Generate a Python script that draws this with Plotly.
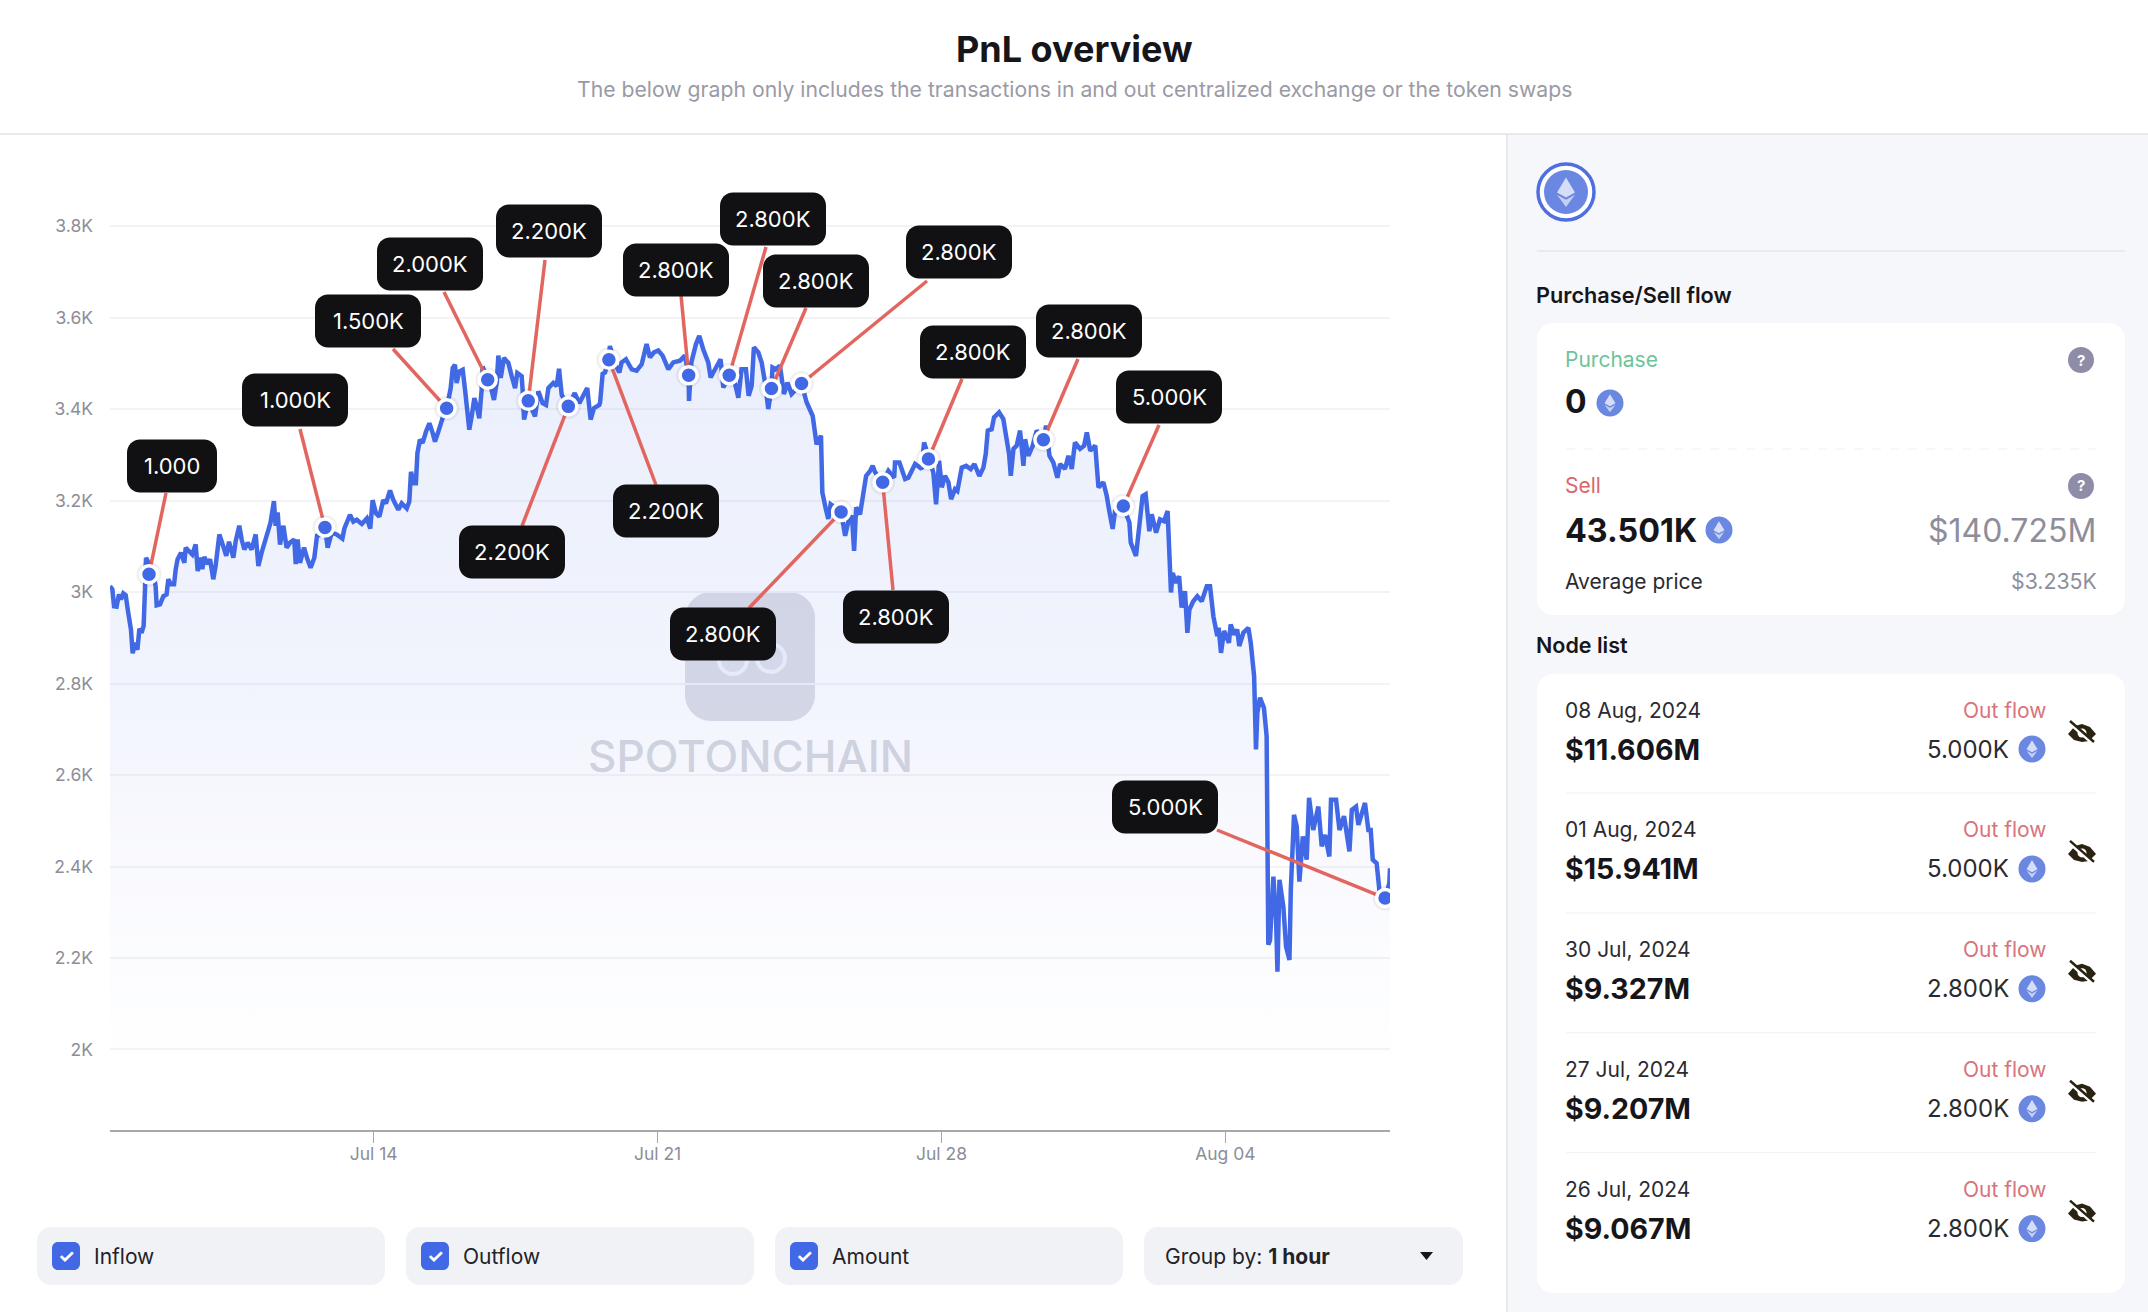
import pandas as pd
import plotly.graph_objects as go

W, H = 2148, 1312
START = pd.Timestamp("2024-07-07 12:00")

price_hours = [
0,1.4,2.4,3.9,5.3,6.5,7.9,9.3,10.5,11.6,12.4,13.4,14.8,16.2,17.4,18.7,19.9,20.7,21.3,22.3,23.1,23.7,26.2,27,27.6,29.6,31.6,33.5,34.5,35.9,37.9,38.9,40,42,44,44.8,46.4,48.7,50.7,51.9,53.3,54.6,55.8,57.8,59.2,61.1,62.5,64.7,66,67.7,68.8,70.4,73,74.4,76.5,77.9,79.5,81.5,83.8,86.2,87.8,89.7,91.7,93.7,95,97,98,99.2,100.6,102.6,104.5,106.5,109,109.9,111,112.4,114.8,116.8,118.7,120.9,122.5,125.2,127.2,128.8,131.2,134.1,137.5,138.7,
142,144,146,149,152,154,155.4,157.4,159.4,161.7,163.3,165.7,167.7,170.6,172.6,175.6,177.1,178.1,179.9,181,181.9,183.4,185,187,189,191,192.3,194.3,196.3,199.2,200.2,201.6,202.8,204.1,205.1,206.7,208.7,210.1,211.1,212.6,214,215.6,217,218.5,219.9,220.5,223.5,225.8,227.2,228.8,229.8,231.2,233.1,235.7,237.7,239.7,241,243.6,244.2,245,247.5,251.5,253.5,256,258,259.4,262.3,264.3,265.7,267.3,271.2,275,277.7,280,282.4,284.4,286.4,289.5,
290,291.5,292.9,295.2,295.8,298.8,301.4,302.7,305.3,308.7,311.6,314.6,317.5,319.5,321.9,324.4,327,330.4,333.3,337.3,340.2,342.4,342.6,344,346.7,348.7,351,354,355.4,358.6,361.3,362.9,366.4,369.2,371.8,373.7,376.3,377.9,379.7,381,383.6,385.6,387.6,389.5,391.4,392,394,396.4,398.8,400.8,403.3,409.2,412.2,415.8,418.1,420.7,421.5,423.6,425,426.4,432.6,
435,437,439,440.3,441.5,443.8,445.4,447.4,449.8,451.3,452.7,457.2,460.6,464,464.5,467.1,470.5,472.4,476.4,480.3,481.7,482.9,484.3,487.2,488.8,490.6,492.2,494.1,496.1,497.7,500,501.4,504,506.6,509.3,511.5,514.4,516.8,518.2,519.4,521.7,523.1,526.1,528.6,530.2,532,533,534.6,536.5,538.5,540.5,541.5,543.4,546,548.4,552.3,553.9,555.9,558.2,560.6,562.2,565.1,567.1,569.1,571,574,576.4,578,580,583,583.9,584.9,587.8,589.8,
591.3,593.3,594.7,599.6,603.2,604,607.1,609.1,611,612.8,615,616.4,619,621.3,623.7,625.8,626.2,627.2,627.8,628.8,630.8,632.6,634.1,636.1,637.5,638.7,641,643.4,646,649,650.9,652.9,655.2,656,657.4,659.2,662.1,663.1,665.3,667,668.2,670.6,673.6,675,677,678.1,678.9,680.5,682.8,684.4,
685.4,686.4,688.4,690,690.8,692,694.3,695.9,697.9,698.7,699.8,700.6,702.2,703.8,705.8,708.1,709.5,712,715,717,719,721.5,722.5,725.5,727.5,730.2,733.4,734.8,737.3,738.7,742.6,744.6,746,747.2,749.5,751.1,754.5,757,757.4,
]
price_values = [
3013,3006,2969,2968,2995,2984,2997,2993,2962,2933,2918,2866,2889,2874,2920,2911,2926,3006,3075,3068,3039,3050,3028,3013,2971,2973,2991,2995,3028,3017,3017,3050,3072,3086,3064,3097,3090,3082,3104,3046,3075,3050,3077,3061,3072,3028,3057,3126,3112,3093,3079,3110,3075,3112,3145,3115,3093,3108,3093,3126,3057,3086,3112,3134,3152,3199,3145,3174,3104,3145,3097,3108,3115,3061,3115,3064,3097,3072,3053,3075,3123,3126,3141,3097,3130,3126,3117,3139,
3169,3154,3158,3149,3161,3139,3201,3172,3165,3201,3194,3222,3201,3180,3194,3183,3198,3263,3238,3238,3304,3333,3326,3351,3369,3347,3329,3351,3373,3402,3420,3446,3490,3497,3457,3482,3486,3442,3399,3355,3384,3424,3406,3380,3442,3493,3464,3442,3420,3457,3517,3468,3512,3501,3472,3446,3479,3472,3439,3377,3418,3384,3439,3413,3409,3446,3457,3450,3488,3431,3406,3435,3413,3428,3446,3377,3402,3409,
3415,3477,3480,3508,3538,3498,3480,3502,3509,3487,3484,3498,3542,3513,3524,3528,3517,3487,3502,3506,3517,3474,3418,3502,3542,3560,3531,3502,3469,3491,3509,3447,3474,3466,3425,3487,3487,3429,3451,3535,3524,3502,3458,3400,3445,3491,3487,3495,3433,3458,3433,3456,3415,3385,3323,3342,3218,3181,3160,3192,3175,
3123,3156,3167,3090,3185,3170,3207,3254,3265,3276,3262,3240,3265,3250,3283,3283,3247,3250,3280,3269,3327,3313,3291,3261,3192,3287,3229,3254,3240,3203,3225,3221,3272,3276,3269,3280,3254,3272,3302,3353,3356,3382,3393,3378,3342,3302,3254,3313,3320,3353,3276,3334,3298,3320,3353,3333,3364,3298,3283,3250,3280,3269,3298,3269,3327,3313,3320,3349,3309,3320,3276,3229,3240,3210,
3177,3138,3177,3188,3152,3108,3079,3159,3210,3214,3133,3170,3130,3159,3155,3177,3130,3042,2999,3042,3020,3035,2966,3002,2911,2962,2980,2991,2980,3013,3013,2947,2904,2922,2867,2915,2889,2929,2907,2918,2882,2911,2922,2889,2816,2656,2736,2769,2747,2685,
2229,2239,2378,2283,2170,2371,2312,2225,2196,2349,2429,2513,2488,2367,2466,2415,2550,2480,2531,2444,2469,2422,2546,2546,2480,2510,2433,2524,2531,2491,2539,2480,2480,2415,2407,2349,2331,2364,2396,
]

swap_hours = [23.1,127.2,199.2,223.5,247.5,271.2,295.2,342.4,366.4,391.4,409.2,432.6,457.2,484.3,552.3,599.6,754.5]
swap_values = [3039,3141,3402,3464,3418,3406,3508,3474,3474,3445,3456,3175,3240,3291,3333,3188,2331]
swap_labels = ["1.000","1.000K","1.500K","2.000K","2.200K","2.200K","2.200K","2.800K","2.800K",
               "2.800K","2.800K","2.800K","2.800K","2.800K","2.800K","5.000K","5.000K"]

y_ticks = [2000,2200,2400,2600,2800,3000,3200,3400,3600,3800]
y_labels = ["2K","2.2K","2.4K","2.6K","2.8K","3K","3.2K","3.4K","3.6K","3.8K"]
x_ticks = ["2024-07-14","2024-07-21","2024-07-28","2024-08-04"]
x_labels = ["Jul 14","Jul 21","Jul 28","Aug 04"]

node_dates = ["08 Aug, 2024","01 Aug, 2024","30 Jul, 2024","27 Jul, 2024","26 Jul, 2024"]
node_usd = ["$11.606M","$15.941M","$9.327M","$9.207M","$9.067M"]
node_eth = ["5.000K","5.000K","2.800K","2.800K","2.800K"]

# --- layout constants (pixels of the page) ---
PL, PR, PT, PB = 110, 1390, 190, 1130
Y_RANGE = [1824, 3879]
X_END_H = 757.4
BOX_CENTERS = [(172,466),(295,400),(368,321),(430,264),(549,231),(512,552),(666,511),(676,270),
               (773,219),(816,281),(959,252),(723,634),(896,617),(973,352),(1089,331),(1169,397),(1165,807)]
LEADER_ENDS = [(166,493),(300,429),(393,349),(444,292),(545,260),(522,526),(656,485),(681,295),
               (766,247),(806,308),(927,281),(749,608),(893,590),(962,379),(1078,359),(1159,425),(1217,830)]
BOX_H = 53
RED = "#e2655f"
BLUE = "#4169e6"
DARK = "#111113"
FONT = "Inter"


def ts(hours):
    return [START + pd.Timedelta(hours=float(h)) for h in hours]


def fx(px):
    return px / W


def fy(py):
    return 1 - py / H


def data_x(px):
    return (px - PL) / (PR - PL) * X_END_H


def data_y(py):
    return Y_RANGE[0] + (PB - py) / (PB - PT) * (Y_RANGE[1] - Y_RANGE[0])


shapes, annos = [], []


def rrect(x0, y0, x1, y1, r, fill, layer="below", line=None):
    k = r * 0.45
    p = (f"M{fx(x0+r)},{fy(y0)} L{fx(x1-r)},{fy(y0)} C{fx(x1-k)},{fy(y0)} {fx(x1)},{fy(y0+k)} {fx(x1)},{fy(y0+r)} "
         f"L{fx(x1)},{fy(y1-r)} C{fx(x1)},{fy(y1-k)} {fx(x1-k)},{fy(y1)} {fx(x1-r)},{fy(y1)} "
         f"L{fx(x0+r)},{fy(y1)} C{fx(x0+k)},{fy(y1)} {fx(x0)},{fy(y1-k)} {fx(x0)},{fy(y1-r)} "
         f"L{fx(x0)},{fy(y0+r)} C{fx(x0)},{fy(y0+k)} {fx(x0+k)},{fy(y0)} {fx(x0+r)},{fy(y0)} Z")
    shapes.append(dict(type="path", xref="paper", yref="paper", path=p, fillcolor=fill,
                       line=line or dict(width=0), layer=layer))


def rect(x0, y0, x1, y1, fill, layer="below"):
    shapes.append(dict(type="rect", xref="paper", yref="paper", x0=fx(x0), x1=fx(x1), y0=fy(y0), y1=fy(y1),
                       fillcolor=fill, line=dict(width=0), layer=layer))


def hline(x0, x1, y, color, width=1, dash="solid", layer="above"):
    shapes.append(dict(type="line", xref="paper", yref="paper", x0=fx(x0), x1=fx(x1), y0=fy(y), y1=fy(y),
                       line=dict(color=color, width=width, dash=dash), layer=layer))


def circle(cx, cy, r, fill, line=None, layer="above"):
    shapes.append(dict(type="circle", xref="paper", yref="paper", x0=fx(cx-r), x1=fx(cx+r), y0=fy(cy-r), y1=fy(cy+r),
                       fillcolor=fill, line=line or dict(width=0), layer=layer))


def poly(points, fill, layer="above", line=None):
    p = "M" + " L".join(f"{fx(a)},{fy(b)}" for a, b in points) + " Z"
    shapes.append(dict(type="path", xref="paper", yref="paper", path=p, fillcolor=fill,
                       line=line or dict(width=0), layer=layer))


def text(px, py, s, size, color="#1a1a1f", anchor="left", weight=400):
    if anchor == "left":
        px -= 3  # annotation box padding
    annos.append(dict(xref="paper", yref="paper", x=fx(px), y=fy(py), text=s, showarrow=False,
                      xanchor=anchor, yanchor="middle", align=anchor,
                      font=dict(family=FONT, size=size, color=color, weight=weight)))


def eth(cx, cy, r):
    circle(cx, cy, r, "#6a87e2")
    s = r / 13
    poly([(cx, cy-8.5*s), (cx+5.3*s, cy+0.3*s), (cx, cy+3.2*s), (cx-5.3*s, cy+0.3*s)], "rgba(255,255,255,0.72)")
    poly([(cx, cy+4.6*s), (cx+5.3*s, cy+1.6*s), (cx, cy+8.8*s), (cx-5.3*s, cy+1.6*s)], "rgba(255,255,255,0.6)")


def help_icon(cx, cy):
    circle(cx, cy, 13, "#8f8ca8")
    text(cx, cy, "?", 15, "white", "center", 700)


def eye(cx, cy):
    poly([(cx-14, cy+1), (cx-7, cy-7), (cx, cy-9), (cx+8, cy-6), (cx+14, cy+1), (cx+7, cy+8), (cx, cy+9), (cx-8, cy+7)], "#2a2312")
    circle(cx, cy, 4.5, "white")
    shapes.append(dict(type="line", xref="paper", yref="paper", x0=fx(cx-12), x1=fx(cx+12), y0=fy(cy-10), y1=fy(cy+11),
                       line=dict(color="white", width=4), layer="above"))
    shapes.append(dict(type="line", xref="paper", yref="paper", x0=fx(cx-12), x1=fx(cx+12), y0=fy(cy-12), y1=fy(cy+9),
                       line=dict(color="#2a2312", width=2.5), layer="above"))


# --- page furniture ---
rect(1507, 134, W, H, "#f6f7fb")
hline(0, W, 134, "#e3e3e6", 1.5, layer="below")
shapes.append(dict(type="line", xref="paper", yref="paper", x0=fx(1507), x1=fx(1507), y0=fy(134), y1=0,
                   line=dict(color="#e3e3e6", width=1.5), layer="below"))
text(1074, 49, "PnL overview", 36, "#16161a", "center", 700)
text(1074, 89, "The below graph only includes the transactions in and out centralized exchange or the token swaps",
     21.2, "#9a9aa6", "center")

# watermark
rrect(685, 592, 815, 721, 26, "rgba(200,202,214,0.62)")
circle(733, 660, 14, "rgba(225,228,240,0.55)", dict(color="rgba(245,246,252,0.9)", width=4), layer="below")
circle(771, 658, 14, "rgba(225,228,240,0.55)", dict(color="rgba(245,246,252,0.9)", width=4), layer="below")
text(750, 756, "SPOTONCHAIN", 44, "rgba(196,200,214,0.8)", "center", 500)

# filter bar
for x0, x1, label in [(37, 385, "Inflow"), (406, 754, "Outflow"), (775, 1123, "Amount")]:
    rrect(x0, 1227, x1, 1285, 14, "#f1f2f6")
    rrect(x0+15, 1242, x0+43, 1270, 6, BLUE, layer="above")
    text(x0+29, 1256, "✓", 19, "white", "center", 700)
    text(x0+58, 1256, label, 21, "#222227")
rrect(1144, 1227, 1463, 1285, 14, "#f1f2f6")
text(1166, 1256, "Group by: <b>1 hour</b>", 21, "#222227")
poly([(1420, 1252), (1433, 1252), (1426.5, 1260)], "#16161a")

# side panel
circle(1566, 192, 28, "white", dict(color="#4f6fe0", width=3.5))
eth(1566, 192, 22)
hline(1537, 2125, 251, "#e4e5ea", 1.5)
text(1537, 295, "Purchase/Sell flow", 21.7, "#16161a", "left", 600)
rrect(1537, 323, 2125, 615, 16, "white")
text(1566, 359, "Purchase", 21, "#6cc598")
help_icon(2081, 360)
text(1566, 401, "0", 32, "#16161a", "left", 700)
eth(1610, 403, 13.5)
hline(1566, 2096, 449, "#f0f0f3", 1, "dash")
text(1566, 486, "Sell", 21, "#d9676a")
help_icon(2081, 486)
text(1566, 530, "43.501K", 32.3, "#16161a", "left", 700)
eth(1719, 530, 13.5)
text(2098, 530, "$140.725M", 32, "#8e8e9a", "right")
text(1566, 581, "Average price", 21, "#2a2a30")
text(2099, 581, "$3.235K", 21.3, "#8e8e9a", "right")
text(1537, 645, "Node list", 21.5, "#16161a", "left", 600)
rrect(1537, 674, 2125, 1293, 16, "white")
for i in range(len(node_dates)):
    dy = i * 119.9
    text(1566, 710+dy, node_dates[i], 21, "#2a2a30")
    text(1566, 749+dy, node_usd[i], 28.6, "#16161a", "left", 700)
    text(2049, 710+dy, "Out flow", 21, "#d9737b", "right")
    text(2011, 749+dy, node_eth[i], 24, "#2a2a30", "right")
    eth(2032, 749+dy, 13.5)
    eye(2082, 733+dy)
    if i < len(node_dates) - 1:
        hline(1566, 2096, 793+dy, "#f1f1f4", 1)

# callouts
for (cx, cy), label in zip(BOX_CENTERS, swap_labels):
    bw = 90 if label == "1.000" else 106
    rrect(cx-bw/2, cy-BOX_H/2, cx+bw/2, cy+BOX_H/2, 13, DARK, layer="above")
    text(cx, cy, label, 22, "white", "center")

leader_x, leader_y = [], []
for h, v, (ex, ey) in zip(swap_hours, swap_values, LEADER_ENDS):
    leader_x += [h, data_x(ex), None]
    leader_y += [v, data_y(ey), None]
leader_t = [None if h is None else START + pd.Timedelta(hours=float(h)) for h in leader_x]

fig = go.Figure()
fig.add_trace(go.Scatter(
    x=ts(price_hours), y=price_values, mode="lines", name="Price",
    line=dict(color=BLUE, width=4.5),
    fill="tozeroy",
    fillgradient=dict(type="vertical", start=3560, stop=1950, colorscale=[
        [0, "rgba(65,105,225,0.105)"], [0.45, "rgba(65,105,225,0.075)"],
        [0.72, "rgba(100,105,225,0.035)"], [1, "rgba(65,105,225,0.0)"]]),
    hoverinfo="x+y"))
fig.add_trace(go.Scatter(x=leader_t, y=leader_y, mode="lines", line=dict(color=RED, width=3.5), hoverinfo="skip"))
fig.add_trace(go.Scatter(x=ts(swap_hours), y=swap_values, mode="markers",
                         marker=dict(size=25, color="rgba(40,40,70,0.07)"), hoverinfo="skip"))
fig.add_trace(go.Scatter(x=ts(swap_hours), y=swap_values, mode="markers", text=swap_labels, name="Swap",
                         marker=dict(size=17, color=BLUE, line=dict(color="white", width=3.5))))

fig.update_layout(
    width=W, height=H, autosize=False,
    margin=dict(l=0, r=0, t=0, b=0),
    paper_bgcolor="white", plot_bgcolor="rgba(0,0,0,0)",
    showlegend=False,
    font=dict(family=FONT),
    shapes=shapes, annotations=annos,
    xaxis=dict(domain=[fx(PL), fx(PR)], type="date",
               range=[START, START + pd.Timedelta(hours=X_END_H)],
               tickvals=x_ticks, ticktext=x_labels, ticks="outside", ticklen=11, tickcolor="#a8a8a8",
               tickwidth=1, showline=True, linecolor="#a8a8a8", linewidth=2, showgrid=False, zeroline=False,
               ticklabelstandoff=-4, tickfont=dict(family=FONT, size=17.5, color="#8d8d99")),
    yaxis=dict(domain=[fy(PB), fy(PT)], range=Y_RANGE, tickvals=y_ticks, ticktext=y_labels,
               ticks="", showline=False, gridcolor="#f3f3f7", gridwidth=1.5, zeroline=False,
               ticklabelstandoff=16, tickfont=dict(family=FONT, size=17.5, color="#8d8d99")),
)
assert len(price_hours) == len(price_values)
fig.write_html("out.html", config={"displayModeBar": False},
               post_script="document.body.style.margin='0';document.documentElement.style.overflow='hidden';")
